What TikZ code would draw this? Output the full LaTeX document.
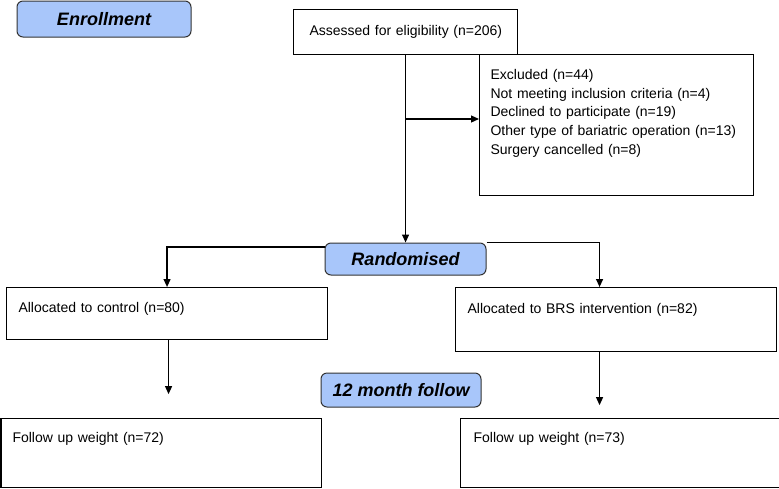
\documentclass[tikz,border=0pt]{standalone}
\usepackage{fontspec}
\setmainfont{Liberation Sans}
\usetikzlibrary{arrows.meta,positioning,calc}
\definecolor{stageblue}{RGB}{168,198,250}

\begin{document}
\begin{tikzpicture}[
  x=1pt, y=-1pt,
  flowbox/.style={rectangle, draw, anchor=north west, align=left, inner ysep=0pt, line width=1.1pt, font=\fontsize{14}{18.7}\selectfont},
  stagebox/.style={rectangle, draw=black!80, fill=stageblue, rounded corners=6pt, line width=1pt, minimum width=160pt, minimum height=33pt, font=\fontsize{18}{20}\selectfont\bfseries\itshape},
  arrow/.style={-{Triangle[length=8pt, width=7pt]}, line width=1.2pt},
]
  \useasboundingbox (0,0) rectangle (779,488);

  % stage labels
  \node[stagebox, minimum width=174pt, minimum height=36pt] (enrol) at (104,19) {Enrollment};
  \node[stagebox, minimum width=161pt, minimum height=32pt] (rand) at (405.5,259) {Randomised};
  \node[stagebox, minimum width=160pt, minimum height=34pt] (follow) at (401,390) {12 month follow};

  % boxes
  \node[flowbox, inner xsep=11pt, text width=202pt, text height=26pt, text depth=19pt] (assess) at (293,9) {\hspace*{5pt}Assessed for eligibility (n=206)};
  \node[flowbox, inner xsep=11pt, text width=252pt, text height=25pt, text depth=116pt] (excl) at (479,54) {Excluded (n=44)\\Not meeting inclusion criteria (n=4)\\Declined to participate (n=19)\\Other type of bariatric operation (n=13)\\Surgery cancelled (n=8)};
  \node[flowbox, inner xsep=12pt, text width=297pt, text height=25pt, text depth=27pt] (ctrl) at (6,287) {Allocated to control (n=80)};
  \node[flowbox, inner xsep=12pt, text width=297pt, text height=26pt, text depth=38pt] (brs) at (455,287) {Allocated to BRS intervention (n=82)};
  \node[flowbox, inner xsep=11.5pt, text width=297.5pt, text height=24pt, text depth=45pt] (ctrlwt) at (0.5,418) {Follow up weight (n=72)};
  \node[flowbox, inner xsep=13pt, text width=292.5pt, text height=24pt, text depth=45pt] (brswt) at (460,418) {Follow up weight (n=73)};

  % connectors
  \coordinate (split) at (405,119);
  \coordinate[below=54pt of ctrl.south, xshift=1.5pt] (ctrlend);
  \coordinate[below=53pt of brs.south, xshift=-16.5pt] (brsend);

  \draw[arrow] (assess.south) -- (assess.south |- rand.north);
  \draw[arrow] (split) -- (split -| excl.west);
  \draw[arrow] ([yshift=12pt]rand.west) -| (ctrl.north);
  \draw[arrow] (rand.north east) -| ([xshift=-16.5pt]brs.north);
  \draw[arrow] (ctrlend |- ctrl.south) -- (ctrlend);
  \draw[arrow] (brsend |- brs.south) -- (brsend);
\end{tikzpicture}
\end{document}
